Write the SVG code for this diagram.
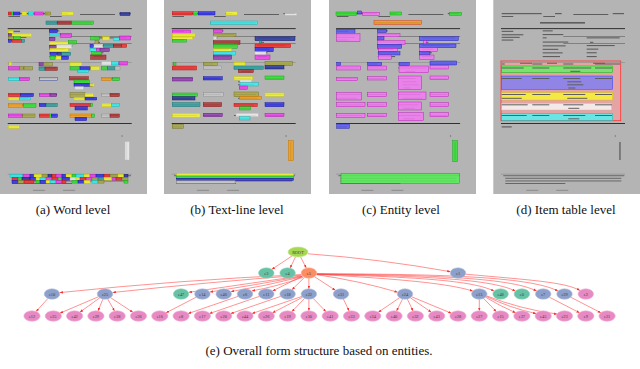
<svg xmlns="http://www.w3.org/2000/svg" width="640" height="369" viewBox="0 0 640 369">
<style>
.pg{fill:#b4b4b4}
.tx rect{fill:#5e5e5e}
.tx rect.k{fill:#222}
.tx rect.f{fill:#8a8a8a}
.bx rect{stroke-width:.45;fill-opacity:.85}
.r{fill:#f03030;stroke:#b81010}.g{fill:#33e033;stroke:#10a010}.b{fill:#3434ee;stroke:#10109a}
.y{fill:#f6f634;stroke:#c8c800}.c{fill:#34f2f2;stroke:#10b0b0}.m{fill:#f044f0;stroke:#b010b0}
.o{fill:#a8a84a;stroke:#707020}.t{fill:#32a2a2;stroke:#107070}.br{fill:#b03838;stroke:#801010}
.p{fill:#9040b0;stroke:#601080}.w{fill:#eeeeee;stroke:#bbbbbb}.db{fill:#2a3aa0;stroke:#101060}
.or{fill:#f0a020;stroke:#c07000}.gy{fill:#c8c8c8;stroke:#8a8a8a}
.cm{fill:#f27af2;stroke:#c010c0}.cb{fill:#5a5af5;stroke:#2020b0}
.cap{font-family:"Liberation Serif","Times New Roman",serif;font-size:13px;fill:#111;text-anchor:middle}
.edges path{fill:none;stroke:#ff3a3a;stroke-width:.65;stroke-opacity:.85;marker-end:url(#ah)}
.nd text{font-family:"Liberation Serif",serif;font-size:4.3px;fill:#3a3a3a;text-anchor:middle}
.lime{fill:#a6d854;stroke:#c4e88a;stroke-width:.6}
.teal{fill:#66c2a5;stroke:#93d6c0;stroke-width:.6}
.orng{fill:#fc8d62;stroke:#fdb195;stroke-width:.6}
.blue{fill:#8da0cb;stroke:#b2bfdd;stroke-width:.6}
.pink{fill:#e78ac3;stroke:#f0b0d7;stroke-width:.6}
</style>
<defs>
<marker id="ah" viewBox="0 0 10 8" refX="10" refY="4" markerWidth="3.2" markerHeight="2.6" markerUnits="userSpaceOnUse" orient="auto">
<path d="M0,0 L10,4 L0,8 z" fill="#ff2a2a"/>
</marker>
<g id="formtext" class="tx">
<rect x="8.4" y="13" width="40" height="1.2"/><rect x="61.7" y="13" width="6.7" height="1.2"/>
<rect x="80" y="14" width="35" height="1"/><rect x="119.4" y="13" width="11.3" height="1.2"/>
<rect x="8.4" y="16" width="11.6" height="1"/><rect x="50" y="16" width="11.7" height="1"/>
<rect x="46.7" y="22" width="45" height="1.6"/>
<rect class="k" x="7.7" y="28.2" width="124" height="0.9"/>
<rect x="8.4" y="30.8" width="11.6" height="1.1"/><rect x="8.4" y="34.2" width="21.6" height="1.1"/>
<rect x="8.4" y="36.8" width="18" height="1.1"/><rect x="8.4" y="39.5" width="11.6" height="1.1"/>
<rect x="49.4" y="30.3" width="10" height="1.1"/><rect x="49.4" y="34" width="20.6" height="1.1"/>
<rect x="49.4" y="37.3" width="4" height="1.1"/><rect x="49.4" y="41.5" width="25.6" height="1.1"/>
<rect x="49.4" y="45.3" width="23" height="1.1"/><rect x="49.4" y="48.8" width="15.6" height="1.1"/>
<rect x="49.4" y="52.3" width="20" height="1.1"/><rect x="49.4" y="56" width="17.3" height="1.1"/>
<rect x="70" y="36" width="61.7" height="0.6"/><rect x="70" y="43" width="61.7" height="0.6"/>
<rect x="93.4" y="37.3" width="33" height="1.1"/><rect x="96.7" y="41.8" width="3.3" height="1.1"/>
<rect x="93.4" y="45" width="28" height="1.1"/><rect x="93.4" y="48.6" width="11.6" height="1.1"/>
<rect x="93.4" y="52.2" width="10" height="1.1"/><rect x="93.4" y="56" width="10" height="1.1"/>
<rect class="f" x="7.7" y="62.3" width="124" height="0.6"/>
<rect x="8.4" y="63.5" width="3" height="1"/><rect x="39" y="63.5" width="10" height="1"/><rect x="70" y="63.5" width="10" height="1"/><rect x="101.7" y="63.5" width="25" height="1"/>
<rect x="8.4" y="67.5" width="22" height="1"/><rect x="39" y="67.5" width="17" height="1"/><rect x="70" y="67.5" width="28" height="1"/><rect x="101.7" y="67.5" width="17" height="1"/>
<rect x="77" y="70.8" width="10" height="1"/>
<rect x="8.4" y="78" width="20" height="1"/><rect x="39" y="78" width="17" height="1"/><rect x="70" y="78" width="17" height="1"/><rect x="101.7" y="78" width="17" height="1"/>
<rect x="74" y="81.3" width="14" height="1"/><rect x="74" y="84.3" width="16" height="1"/><rect x="75" y="87.5" width="7" height="1"/>
<rect x="8.4" y="94" width="24" height="1"/><rect x="39" y="94" width="18" height="1"/><rect x="70" y="94" width="22" height="1"/><rect x="101.7" y="94" width="17" height="1"/>
<rect x="8.4" y="97.8" width="20" height="1"/><rect x="74" y="97.8" width="20" height="1"/>
<rect x="8.4" y="104.3" width="26" height="1"/><rect x="39" y="104.3" width="17" height="1"/><rect x="70" y="104.3" width="20" height="1"/><rect x="101.7" y="104.3" width="17" height="1"/>
<rect x="75" y="107.8" width="11" height="1"/>
<rect x="8.4" y="115" width="25" height="1"/><rect x="39" y="115" width="17" height="1"/><rect x="70" y="115" width="22" height="1"/><rect x="101.7" y="115" width="17" height="1"/>
<rect x="75" y="118.3" width="11" height="1"/>
<rect class="k" x="7.7" y="123" width="124" height="0.9"/>
<rect x="8.4" y="126.3" width="10" height="1.2"/>
<rect x="121.5" y="135.5" width="1.2" height="1"/>
<rect x="126" y="142" width="1.3" height="18"/>
<rect class="f" x="7.7" y="173.8" width="124" height="0.6"/>
<rect x="10" y="175.3" width="121" height="0.9"/><rect x="12" y="177.8" width="116" height="0.9"/>
<rect x="12" y="180.5" width="116" height="0.9"/><rect x="12" y="183" width="60" height="0.9"/>
<rect class="f" x="33" y="189.8" width="12" height="1"/><rect class="f" x="63" y="189.8" width="12" height="1"/>
</g>
</defs>
<rect width="640" height="369" fill="#ffffff"/>

<g id="panel-a">
<rect class="pg" x="0" y="0" width="147" height="194"/>
<use href="#formtext"/>
<g class="bx">
<rect class="r" x="8.3" y="12" width="2.8" height="3"/><rect class="g" x="11.3" y="12" width="2" height="3"/><rect class="b" x="13.7" y="12" width="6.3" height="3"/>
<rect class="y" x="22" y="12" width="4.7" height="3"/><rect class="c" x="28.7" y="12" width="4.6" height="3"/><rect class="m" x="34.3" y="12" width="9" height="3"/>
<rect class="o" x="45" y="12" width="5.7" height="3"/><rect class="y" x="61.7" y="12" width="11.6" height="3"/><rect class="db" x="120" y="12.5" width="10" height="3"/>
<rect class="t" x="46" y="21" width="11" height="3.3"/><rect class="br" x="57.7" y="21" width="14" height="3.3"/><rect class="g" x="71.7" y="21" width="21.6" height="3.3"/>
<rect class="y" x="8.3" y="30.5" width="5" height="2.7"/><rect class="p" x="8.3" y="33.5" width="3.3" height="2.7"/><rect class="y" x="12" y="33.5" width="19.5" height="3"/>
<rect class="o" x="8.3" y="36.6" width="5" height="2.7"/><rect class="g" x="13.6" y="36.6" width="7" height="2.7"/>
<rect class="b" x="8.3" y="39.6" width="3" height="2.7"/><rect class="r" x="12" y="39.6" width="9.5" height="2.7"/><rect class="t" x="21.6" y="39.6" width="3" height="2.7"/>
<rect class="b" x="49.3" y="29.3" width="8" height="3.3"/><rect class="c" x="49.3" y="33.3" width="10.7" height="2.7"/><rect class="m" x="60.7" y="33.3" width="11" height="4"/>
<rect class="p" x="49.3" y="37.3" width="5.7" height="3.3"/><rect class="y" x="49.3" y="41.3" width="19" height="3"/><rect class="g" x="68.3" y="40.7" width="8.3" height="3.3"/>
<rect class="p" x="49.3" y="45.3" width="7.3" height="3"/><rect class="w" x="56.7" y="44.7" width="15" height="3.7"/><rect class="y" x="50" y="48.3" width="18.3" height="3.3"/>
<rect class="b" x="50" y="52.3" width="6.7" height="3"/><rect class="db" x="57.3" y="52.3" width="4.3" height="3"/><rect class="t" x="61.7" y="52.3" width="9" height="3"/>
<rect class="g" x="50" y="56" width="5" height="3.3"/><rect class="y" x="56" y="56" width="5.7" height="3.3"/><rect class="b" x="61.7" y="56" width="6.7" height="3.3"/>
<rect class="g" x="90.7" y="36.7" width="8.7" height="3.3"/><rect class="y" x="102.7" y="36.7" width="6.7" height="3.3"/><rect class="c" x="113.3" y="37.7" width="6" height="3"/><rect class="m" x="119.3" y="36" width="11.3" height="4"/>
<rect class="o" x="95" y="40.7" width="3.3" height="3.3"/>
<rect class="b" x="90" y="44.3" width="3.3" height="3"/><rect class="w" x="94" y="44.3" width="8.7" height="3"/><rect class="t" x="103.3" y="44.3" width="10" height="3"/><rect class="br" x="113.3" y="44.3" width="8.3" height="3"/><rect class="r" x="121.7" y="44.3" width="5" height="3"/>
<rect class="c" x="90" y="48.3" width="6.7" height="3.3"/><rect class="m" x="96.7" y="48.3" width="3.3" height="3.3"/><rect class="p" x="100" y="48.3" width="9.3" height="3.3"/>
<rect class="g" x="91.7" y="51.7" width="10" height="3.3"/><rect class="br" x="90.7" y="55" width="15.3" height="4.3"/>
<rect class="y" x="9" y="62.3" width="2.7" height="3"/><rect class="p" x="39" y="62.7" width="4.3" height="3.3"/><rect class="o" x="43.3" y="62.7" width="9.3" height="3.3"/>
<rect class="y" x="70" y="62.7" width="11.7" height="3.3"/><rect class="w" x="101.7" y="61.7" width="10" height="3.3"/><rect class="c" x="111.7" y="61.7" width="6.7" height="3.3"/><rect class="m" x="119" y="61.7" width="8.3" height="3.3"/>
<rect class="m" x="8.3" y="66.7" width="11" height="3.3"/><rect class="o" x="19.3" y="66.7" width="4" height="3.3"/><rect class="o" x="24" y="66.7" width="8.7" height="3.3"/>
<rect class="t" x="39" y="67" width="6" height="3.3"/><rect class="br" x="45" y="67" width="12.3" height="3.3"/>
<rect class="g" x="70" y="66.7" width="10" height="3.3"/><rect class="b" x="80" y="66.7" width="10.7" height="3.3"/><rect class="y" x="90.7" y="66.7" width="8.7" height="3.3"/>
<rect class="g" x="101.7" y="66.7" width="5.7" height="3.3"/><rect class="t" x="107.3" y="66.7" width="7.7" height="3.3"/><rect class="gy" x="115" y="66.7" width="5" height="3.3"/>
<rect class="c" x="77.3" y="70" width="11" height="2.7"/>
<rect class="c" x="8.3" y="77.3" width="11" height="3.3"/><rect class="m" x="19.3" y="77.3" width="10" height="3.3"/><rect class="gy" x="39.3" y="77.3" width="18" height="3.3" style="stroke:#2a3aa0"/>
<rect class="br" x="69.3" y="76.7" width="19" height="3.3"/><rect class="g" x="74" y="80" width="15.3" height="3.3"/><rect class="b" x="74" y="83.3" width="18.7" height="3"/><rect class="y" x="90" y="83.3" width="4" height="3"/>
<rect class="w" x="75" y="86.7" width="8.3" height="2.7"/><rect class="or" x="101.7" y="77.3" width="10" height="3.3"/><rect class="g" x="112.7" y="77.3" width="6.7" height="3.3"/>
<rect class="r" x="8.3" y="93.3" width="12.3" height="3.3"/><rect class="b" x="20.7" y="93.3" width="12.7" height="3.3"/><rect class="y" x="8.3" y="97.3" width="11" height="2.7"/><rect class="c" x="19.3" y="97.3" width="11.3" height="2.7"/>
<rect class="m" x="39.3" y="93.3" width="10.7" height="3.3"/><rect class="p" x="50" y="93.3" width="6.7" height="3.3"/>
<rect class="o" x="70" y="92.7" width="15" height="4.7"/><rect class="y" x="85" y="93.3" width="8.3" height="3.3"/><rect class="y" x="74" y="97.3" width="11" height="2.7"/><rect class="b" x="85" y="97.3" width="11.7" height="2.7"/>
<rect class="gy" x="101.7" y="93.3" width="8.3" height="3.3"/><rect class="br" x="110" y="93.3" width="9.3" height="3.3"/>
<rect class="or" x="8.3" y="103.3" width="14.3" height="4"/><rect class="g" x="23.3" y="103.3" width="12.7" height="4"/>
<rect class="b" x="39.3" y="103.3" width="6.7" height="3.3"/><rect class="t" x="46" y="103.3" width="11.3" height="3.3"/>
<rect class="r" x="70" y="103.3" width="20.7" height="3.3"/><rect class="g" x="90.7" y="103.3" width="2" height="3.3"/><rect class="b" x="75" y="106.7" width="12.3" height="3.3"/>
<rect class="y" x="101.7" y="103.3" width="10" height="3.3"/><rect class="c" x="111.7" y="103.3" width="7.7" height="3.3"/>
<rect class="m" x="8.3" y="114" width="14.3" height="3.3"/><rect class="o" x="22.7" y="114" width="12.3" height="3.3"/>
<rect class="r" x="39.3" y="114" width="10" height="3.3"/><rect class="g" x="49.3" y="114" width="2.3" height="3.3"/><rect class="b" x="51.7" y="114" width="5.7" height="3.3"/>
<rect class="or" x="70" y="114" width="21.7" height="3.3"/><rect class="g" x="91.7" y="114" width="2.6" height="3.3"/><rect class="b" x="75" y="117.3" width="11.7" height="3.3"/>
<rect class="gy" x="101.7" y="114" width="8.3" height="3.3"/><rect class="br" x="110" y="114" width="9.3" height="3.3"/>
<rect class="y" x="8.3" y="125.3" width="11" height="3"/>
<rect class="w" x="125" y="141.7" width="4.3" height="18.3"/>
<rect class="c" x="10" y="174.3" width="13" height="2.8"/><rect class="m" x="23" y="174.3" width="7" height="2.8"/><rect class="b" x="30" y="174.3" width="4" height="2.8"/><rect class="y" x="34" y="174.3" width="8" height="2.8"/><rect class="o" x="42" y="174.3" width="6" height="2.8"/><rect class="db" x="48" y="174.3" width="4" height="2.8"/><rect class="r" x="52" y="174.3" width="4" height="2.8"/><rect class="m" x="56" y="174.3" width="6" height="2.8"/><rect class="b" x="62" y="174.3" width="4" height="2.8"/><rect class="y" x="66" y="174.3" width="6" height="2.8"/><rect class="g" x="72" y="174.3" width="4" height="2.8"/><rect class="c" x="76" y="174.3" width="8" height="2.8"/><rect class="y" x="84" y="174.3" width="6" height="2.8"/><rect class="m" x="90" y="174.3" width="6" height="2.8"/><rect class="b" x="96" y="174.3" width="8" height="2.8"/><rect class="r" x="104" y="174.3" width="6" height="2.8"/><rect class="o" x="110" y="174.3" width="8" height="2.8"/><rect class="y" x="118" y="174.3" width="6" height="2.8"/><rect class="db" x="124" y="174.3" width="4" height="2.8"/>
<rect class="r" x="12" y="177.3" width="6" height="2.8"/><rect class="g" x="18" y="177.3" width="4" height="2.8"/><rect class="db" x="22" y="177.3" width="8" height="2.8"/><rect class="b" x="30" y="177.3" width="6" height="2.8"/><rect class="y" x="36" y="177.3" width="4" height="2.8"/><rect class="c" x="40" y="177.3" width="6" height="2.8"/><rect class="m" x="46" y="177.3" width="6" height="2.8"/><rect class="r" x="52" y="177.3" width="6" height="2.8"/><rect class="g" x="58" y="177.3" width="4" height="2.8"/><rect class="b" x="62" y="177.3" width="8" height="2.8"/><rect class="w" x="70" y="177.3" width="6" height="2.8"/><rect class="y" x="76" y="177.3" width="4" height="2.8"/><rect class="r" x="80" y="177.3" width="6" height="2.8"/><rect class="m" x="86" y="177.3" width="6" height="2.8"/><rect class="o" x="92" y="177.3" width="6" height="2.8"/><rect class="t" x="98" y="177.3" width="6" height="2.8"/><rect class="y" x="104" y="177.3" width="8" height="2.8"/><rect class="m" x="112" y="177.3" width="4" height="2.8"/><rect class="r" x="116" y="177.3" width="6" height="2.8"/><rect class="o" x="122" y="177.3" width="6" height="2.8"/>
<rect class="b" x="12" y="180.3" width="6" height="2.8"/><rect class="o" x="18" y="180.3" width="6" height="2.8"/><rect class="r" x="24" y="180.3" width="10" height="2.8"/><rect class="g" x="36" y="180.3" width="4" height="2.8"/><rect class="b" x="40" y="180.3" width="6" height="2.8"/><rect class="y" x="46" y="180.3" width="4" height="2.8"/><rect class="c" x="50" y="180.3" width="6" height="2.8"/><rect class="m" x="56" y="180.3" width="6" height="2.8"/><rect class="r" x="62" y="180.3" width="4" height="2.8"/><rect class="g" x="72" y="180.3" width="6" height="2.8"/><rect class="b" x="78" y="180.3" width="6" height="2.8"/><rect class="y" x="84" y="180.3" width="6" height="2.8"/><rect class="c" x="92" y="180.3" width="6" height="2.8"/><rect class="o" x="98" y="180.3" width="6" height="2.8"/><rect class="g" x="124" y="180.3" width="4" height="2.8"/>
</g>
</g>

<g id="panel-b">
<rect class="pg" x="164" y="0" width="147" height="194"/>
<use href="#formtext" x="164"/>
<g class="bx">
<rect class="r" x="172.3" y="11.7" width="20.4" height="3.3"/><rect class="g" x="193.3" y="11.7" width="4" height="3.3"/><rect class="b" x="198.3" y="11.7" width="16.7" height="3.3"/>
<rect class="y" x="226" y="11.7" width="11.3" height="3.3"/><rect class="w" x="285" y="13.3" width="11.7" height="2"/>
<rect class="c" x="210.7" y="21" width="46.6" height="3.3"/>
<rect class="m" x="172.3" y="30" width="18.3" height="3.3"/><rect class="y" x="172.3" y="33.3" width="22.7" height="3.3"/><rect class="y" x="172.3" y="36.7" width="20.3" height="2.7"/><rect class="g" x="172.3" y="39.4" width="14.3" height="2.7"/>
<rect class="m" x="213.3" y="29.3" width="9" height="3.3"/><rect class="o" x="213.3" y="33.3" width="22.7" height="3.3"/><rect class="w" x="213.3" y="36.7" width="3.3" height="2.7"/>
<rect class="br" x="213.3" y="40.7" width="26.7" height="3.6"/><rect class="g" x="213.3" y="44.3" width="24" height="4"/><rect class="y" x="213.3" y="48.7" width="18.3" height="3"/>
<rect class="c" x="213.3" y="51.7" width="22" height="3.3"/><rect class="p" x="213.3" y="55" width="18.3" height="4.3"/>
<rect class="db" x="255" y="36.7" width="40" height="4"/><rect class="t" x="259.3" y="40.7" width="2.3" height="2.7"/><rect class="r" x="255" y="44" width="35.7" height="3.7"/>
<rect class="b" x="255" y="47.7" width="18.3" height="4"/><rect class="w" x="255" y="51.7" width="11" height="3.3"/><rect class="m" x="255" y="55" width="15" height="4.3"/>
<rect class="g" x="173.3" y="62.7" width="2.7" height="2.7"/><rect class="r" x="172.3" y="66" width="24.3" height="4"/>
<rect class="o" x="203.3" y="62.3" width="14" height="3.3"/><rect class="gy" x="203.3" y="66" width="18.3" height="3.3"/>
<rect class="y" x="234" y="62.3" width="11" height="3.3"/><rect class="t" x="234" y="66" width="29.3" height="3.3"/><rect class="br" x="238.3" y="69.3" width="15" height="3.3"/>
<rect class="o" x="265" y="61.3" width="27.7" height="4.3"/><rect class="db" x="265" y="65.7" width="19" height="3.3"/>
<rect class="p" x="172.3" y="77.3" width="20.3" height="3.7"/><rect class="b" x="203.3" y="76.7" width="19" height="3.3"/>
<rect class="y" x="234" y="76.7" width="18.7" height="3.3"/><rect class="w" x="240" y="80" width="11.7" height="2.7"/><rect class="c" x="240" y="82.7" width="18.3" height="3.3"/><rect class="m" x="239.3" y="86" width="8" height="3.3"/>
<rect class="g" x="265" y="76" width="19" height="3.3"/>
<rect class="g" x="172.3" y="93" width="25" height="3.3"/><rect class="db" x="172.3" y="96.7" width="22.7" height="3.3"/><rect class="gy" x="203.3" y="92.7" width="20" height="4"/>
<rect class="o" x="234" y="92" width="24.3" height="4.7"/><rect class="or" x="239.3" y="96.3" width="22.3" height="3"/><rect class="y" x="265" y="93" width="19" height="3.3"/>
<rect class="t" x="172.3" y="102.7" width="27.7" height="4"/><rect class="br" x="203.3" y="102.7" width="18.3" height="4"/>
<rect class="r" x="234" y="103.3" width="23.3" height="3.3"/><rect class="g" x="239.3" y="106.7" width="11.3" height="3.3"/><rect class="b" x="265" y="102.7" width="19" height="4"/>
<rect class="y" x="172.3" y="113.3" width="27.7" height="4"/><rect class="p" x="203.3" y="113.3" width="19" height="3.3"/>
<rect class="w" x="236" y="113.3" width="22.3" height="3.3"/><rect class="c" x="239.3" y="116.7" width="10.7" height="3.3"/><rect class="m" x="265" y="113.3" width="19" height="3.3"/>
<rect class="o" x="172.3" y="124.3" width="11" height="4"/>
<rect class="or" x="288.3" y="140.7" width="5" height="20"/>
<rect class="y" x="176.7" y="173.3" width="116.7" height="2.7"/><rect class="g" x="176.7" y="176" width="116.7" height="2.3"/>
<rect class="b" x="176.7" y="178.3" width="116.7" height="2.3"/><rect class="gy" x="176.7" y="180.7" width="58.3" height="2.7"/>
</g>
</g>

<g id="panel-c">
<rect class="pg" x="329" y="0" width="147" height="194"/>
<use href="#formtext" x="328.4"/>
<g class="bx">
<rect class="g" x="336" y="12" width="20.7" height="3.3"/><rect class="cb" x="357.3" y="11" width="4.3" height="3"/><rect class="cm" x="362.7" y="12.3" width="16.7" height="3"/>
<rect class="g" x="390" y="12" width="11.7" height="3"/><rect class="g" x="449.3" y="12.3" width="12.3" height="3"/>
<rect class="or" x="374" y="20.7" width="47.7" height="3.7" style="stroke:#e03010"/>
<rect class="cb" x="336.7" y="29.3" width="18.3" height="4"/><rect class="cm" x="336.7" y="33.3" width="23.3" height="8.3"/>
<rect class="cb" x="377.3" y="29.3" width="9.3" height="3.3"/><rect class="cm" x="377.3" y="33.3" width="22.7" height="3.3"/><rect class="cb" x="377.3" y="36.7" width="6.7" height="3.3"/>
<rect class="cm" x="377.3" y="40.7" width="27.7" height="3.6"/><rect class="cb" x="377.3" y="44.3" width="24.3" height="4"/><rect class="cm" x="378.3" y="48.3" width="19" height="3.3"/>
<rect class="cb" x="378.3" y="51.7" width="21.7" height="3.3"/><rect class="cm" x="378.3" y="55" width="13.3" height="4.3"/>
<rect class="cb" x="419.3" y="36.7" width="39" height="4"/><rect class="cm" x="423.3" y="40.7" width="3.3" height="3.3"/><rect class="cb" x="419.3" y="44" width="36.7" height="3.7"/>
<rect class="cm" x="419.3" y="47.7" width="18" height="4"/><rect class="cb" x="419.3" y="51.7" width="10.7" height="3.3"/><rect class="cm" x="419.3" y="55" width="14.7" height="4.3"/>
<rect class="cb" x="336.7" y="62.3" width="4" height="3.3"/><rect class="cm" x="336.7" y="66" width="24" height="4"/>
<rect class="cb" x="367.7" y="62.3" width="14" height="3.3"/><rect class="cm" x="367.7" y="66" width="19" height="4"/>
<rect class="cb" x="399" y="62.3" width="10.3" height="3.3"/><rect class="cm" x="399" y="66" width="29.3" height="6.7"/>
<rect class="cb" x="430" y="61" width="26.7" height="4"/><rect class="cm" x="430" y="65.7" width="18.3" height="3.3"/>
<rect class="cm" x="336.7" y="77.3" width="20.7" height="3.3"/><rect class="cm" x="367.7" y="76.7" width="19" height="3.3"/>
<rect class="cm" x="398.3" y="76" width="23.3" height="13.3"/><rect class="cm" x="430" y="76" width="18.3" height="3.3"/>
<rect class="cm" x="336.7" y="92.7" width="25" height="7.3"/><rect class="cm" x="367.7" y="92.7" width="19" height="4"/>
<rect class="cm" x="398.3" y="92" width="27.7" height="7.3"/><rect class="cm" x="430" y="92.7" width="18.3" height="4"/>
<rect class="cm" x="336.7" y="102.7" width="28.3" height="4"/><rect class="cm" x="367.7" y="102.7" width="19" height="4"/>
<rect class="cm" x="398.3" y="102" width="23.3" height="8"/><rect class="cm" x="430" y="102.7" width="18.3" height="4"/>
<rect class="cm" x="336.7" y="113.3" width="28.3" height="4"/><rect class="cm" x="367.7" y="113.3" width="19" height="3.3"/>
<rect class="cm" x="398.3" y="112.7" width="25" height="8"/><rect class="cm" x="430" y="112.7" width="18.3" height="4"/>
<rect class="cb" x="336.7" y="124" width="12.7" height="4.3"/>
<rect class="g" x="452.7" y="140.7" width="4.7" height="21"/>
<rect class="g" x="341" y="173.3" width="118.3" height="10" style="fill:#55ee55"/>
</g>
</g>

<g id="panel-d">
<rect class="pg" x="493.3" y="0" width="146.7" height="194"/>
<rect x="501" y="61" width="119.7" height="59.7" fill="#e6a3a3" stroke="#ff3030" stroke-width=".8"/>
<g class="bx">
<rect class="g" x="501.7" y="66" width="111" height="6.7" style="fill:#66ee66"/>
<rect class="cb" x="501.7" y="76" width="111" height="13.3" style="fill:#8080f0;stroke:#3030ff"/>
<rect class="y" x="501.7" y="92.7" width="111" height="7.3"/>
<rect class="w" x="501.7" y="103.3" width="110" height="6.7" style="fill:#f6f6f6"/>
<rect class="c" x="501.7" y="113.3" width="111" height="7.3" style="fill:#55f0f0"/>
</g>
<use href="#formtext" x="493.3"/>
<g fill="#e02020">
<rect x="520" y="62.8" width="12" height="0.9"/><rect x="547" y="62.8" width="10" height="0.9"/><rect x="593" y="62.8" width="12" height="0.9"/>
</g>
</g>

<g id="captions">
<text class="cap" x="73" y="213.5">(a) Word level</text>
<text class="cap" x="237" y="213.5">(b) Text-line level</text>
<text class="cap" x="401" y="213.5">(c) Entity level</text>
<text class="cap" x="566" y="213.5">(d) Item table level</text>
<text class="cap" x="319" y="355">(e) Overall form structure based on entities.</text>
</g>

<g id="connectors" class="edges">
<path d="M291.98,255.99 L271.83,269.34"/>
<path d="M295.53,256.85 L290.11,268.08"/>
<path d="M300.51,256.84 L306.35,268.09"/>
<path d="M308,253.8 Q380,259 450.4,271.7"/>
<path d="M465.6,274.2 C530,280 565,282 580,290.5"/>
<path d="M301.2,274.6 Q180,280 59.7,292.6"/>
<path d="M301.3,275.2 Q210,282 112.7,292.5"/>
<path d="M301.6,275.9 Q245,284 188.7,292.3"/>
<path d="M302,276.3 Q255,285 209.9,292"/>
<path d="M302.3,276.7 Q265,286 230.9,291.6"/>
<path d="M303,277.3 Q275,287 251.8,290.9"/>
<path d="M302.63,276.09 L272.57,290.91"/>
<path d="M304.53,277.31 L291.97,289.69"/>
<path d="M308.9,278.2 L308.9,288.8"/>
<path d="M314.47,276.64 L335.43,290.36"/>
<path d="M316.3,274.6 Q360,281 397.6,292.2"/>
<path d="M316.6,274.3 C380,278 445,282 472.8,291.1"/>
<path d="M316.6,274.1 C400,277 470,279 494.1,291.1"/>
<path d="M316.6,274 C410,276 490,278 515.4,291.1"/>
<path d="M316.6,273.9 C420,275 510,277 536.7,291.1"/>
<path d="M316.6,273.8 C430,274 530,276 558,291.1"/>
<path d="M47.96,298.45 L36.04,311.55"/>
<path d="M98.42,296.8 L59.88,313.2"/>
<path d="M99.72,297.82 L79.88,312.18"/>
<path d="M102.93,299.01 L97.97,310.99"/>
<path d="M107.7,298.88 L114.5,311.12"/>
<path d="M110.56,297.65 L132.94,312.35"/>
<path d="M196.23,297.18 L165.97,312.82"/>
<path d="M238.07,296.39 L188.03,313.61"/>
<path d="M259.37,296.39 L209.33,313.61"/>
<path d="M280.67,296.39 L230.63,313.61"/>
<path d="M301.97,296.39 L251.93,313.61"/>
<path d="M302.73,297.18 L272.47,312.82"/>
<path d="M304.67,298.37 L291.83,311.63"/>
<path d="M308.9,299.2 L308.9,310.8"/>
<path d="M313.13,298.37 L325.97,311.63"/>
<path d="M343.36,298.95 L349.14,311.05"/>
<path d="M399.55,297.72 L378.25,312.28"/>
<path d="M402.55,298.94 L396.55,311.06"/>
<path d="M407.34,298.95 L413.06,311.05"/>
<path d="M410.4,297.75 L431.3,312.25"/>
<path d="M411.62,296.75 L451.38,313.25"/>
<path d="M479.3,299.2 L479.3,310.8"/>
<path d="M483.53,298.37 L496.37,311.63"/>
<path d="M485.47,297.18 Q500,306 515.73,312.82"/>
<path d="M486.23,296.39 Q510,308 536.27,313.61"/>
<path d="M486.58,295.88 Q520,309 557.22,314.12"/>
<path d="M549.37,297.18 L579.63,312.82"/>
<path d="M570.67,297.18 L600.93,312.82"/>
</g>

<g id="nodes" class="nd">
<g id="n-root"><ellipse class="lime" cx="298" cy="252" rx="10" ry="5"/><text x="298" y="253.5">ROOT</text></g>
<g id="n-e3"><ellipse class="teal" cx="266.3" cy="273" rx="7.8" ry="5.2"/><text x="266.3" y="274.5">e3</text></g>
<g id="n-e4"><ellipse class="teal" cx="287.6" cy="273" rx="7.8" ry="5.2"/><text x="287.6" y="274.5">e4</text></g>
<g id="n-e5"><ellipse class="orng" cx="308.9" cy="273" rx="7.8" ry="5.2"/><text x="308.9" y="274.5">e5</text></g>
<g id="n-e1"><ellipse class="blue" cx="458" cy="273" rx="7.8" ry="5.2"/><text x="458" y="274.5">e1</text></g>
<g id="n-e10"><ellipse class="blue" cx="52" cy="294" rx="7.8" ry="5.2"/><text x="52" y="295.5">e10</text></g>
<g id="n-e25"><ellipse class="blue" cx="105" cy="294" rx="7.8" ry="5.2"/><text x="105" y="295.5">e25</text></g>
<g id="n-e47"><ellipse class="teal" cx="181.1" cy="294" rx="7.8" ry="5.2"/><text x="181.1" y="295.5">e47</text></g>
<g id="n-e14"><ellipse class="blue" cx="202.4" cy="294" rx="7.8" ry="5.2"/><text x="202.4" y="295.5">e14</text></g>
<g id="n-e46"><ellipse class="blue" cx="223.7" cy="294" rx="7.8" ry="5.2"/><text x="223.7" y="295.5">e46</text></g>
<g id="n-e6"><ellipse class="blue" cx="245" cy="294" rx="7.8" ry="5.2"/><text x="245" y="295.5">e6</text></g>
<g id="n-e11"><ellipse class="blue" cx="266.3" cy="294" rx="7.8" ry="5.2"/><text x="266.3" y="295.5">e11</text></g>
<g id="n-e18"><ellipse class="blue" cx="287.6" cy="294" rx="7.8" ry="5.2"/><text x="287.6" y="295.5">e18</text></g>
<g id="n-e22"><ellipse class="blue" cx="308.9" cy="294" rx="7.8" ry="5.2"/><text x="308.9" y="295.5">e22</text></g>
<g id="n-e31"><ellipse class="blue" cx="341" cy="294" rx="7.8" ry="5.2"/><text x="341" y="295.5">e31</text></g>
<g id="n-e24"><ellipse class="blue" cx="405" cy="294" rx="7.8" ry="5.2"/><text x="405" y="295.5">e24</text></g>
<g id="n-e13"><ellipse class="blue" cx="479.3" cy="294" rx="7.8" ry="5.2"/><text x="479.3" y="295.5">e13</text></g>
<g id="n-e48"><ellipse class="teal" cx="500.6" cy="294" rx="7.8" ry="5.2"/><text x="500.6" y="295.5">e48</text></g>
<g id="n-e0"><ellipse class="teal" cx="521.9" cy="294" rx="7.8" ry="5.2"/><text x="521.9" y="295.5">e0</text></g>
<g id="n-e7"><ellipse class="blue" cx="543.2" cy="294" rx="7.8" ry="5.2"/><text x="543.2" y="295.5">e7</text></g>
<g id="n-e39"><ellipse class="blue" cx="564.5" cy="294" rx="7.8" ry="5.2"/><text x="564.5" y="295.5">e39</text></g>
<g id="n-e2"><ellipse class="pink" cx="585.8" cy="294" rx="7.8" ry="5.2"/><text x="585.8" y="295.5">e2</text></g>
<g id="n-e12"><ellipse class="pink" cx="32" cy="316" rx="8.2" ry="5.2"/><text x="32" y="317.5">e12</text></g>
<g id="n-e35"><ellipse class="pink" cx="53.3" cy="316" rx="8.2" ry="5.2"/><text x="53.3" y="317.5">e35</text></g>
<g id="n-e42"><ellipse class="pink" cx="74.6" cy="316" rx="8.2" ry="5.2"/><text x="74.6" y="317.5">e42</text></g>
<g id="n-e29"><ellipse class="pink" cx="95.9" cy="316" rx="8.2" ry="5.2"/><text x="95.9" y="317.5">e29</text></g>
<g id="n-e38"><ellipse class="pink" cx="117.2" cy="316" rx="8.2" ry="5.2"/><text x="117.2" y="317.5">e38</text></g>
<g id="n-e36"><ellipse class="pink" cx="138.5" cy="316" rx="8.2" ry="5.2"/><text x="138.5" y="317.5">e36</text></g>
<g id="n-e16"><ellipse class="pink" cx="159.8" cy="316" rx="8.2" ry="5.2"/><text x="159.8" y="317.5">e16</text></g>
<g id="n-e8"><ellipse class="pink" cx="181.1" cy="316" rx="8.2" ry="5.2"/><text x="181.1" y="317.5">e8</text></g>
<g id="n-e17"><ellipse class="pink" cx="202.4" cy="316" rx="8.2" ry="5.2"/><text x="202.4" y="317.5">e17</text></g>
<g id="n-e20"><ellipse class="pink" cx="223.7" cy="316" rx="8.2" ry="5.2"/><text x="223.7" y="317.5">e20</text></g>
<g id="n-e44"><ellipse class="pink" cx="245" cy="316" rx="8.2" ry="5.2"/><text x="245" y="317.5">e44</text></g>
<g id="n-e26"><ellipse class="pink" cx="266.3" cy="316" rx="8.2" ry="5.2"/><text x="266.3" y="317.5">e26</text></g>
<g id="n-e19"><ellipse class="pink" cx="287.6" cy="316" rx="8.2" ry="5.2"/><text x="287.6" y="317.5">e19</text></g>
<g id="n-e30"><ellipse class="pink" cx="308.9" cy="316" rx="8.2" ry="5.2"/><text x="308.9" y="317.5">e30</text></g>
<g id="n-e41"><ellipse class="pink" cx="330.2" cy="316" rx="8.2" ry="5.2"/><text x="330.2" y="317.5">e41</text></g>
<g id="n-e33"><ellipse class="pink" cx="351.5" cy="316" rx="8.2" ry="5.2"/><text x="351.5" y="317.5">e33</text></g>
<g id="n-e34"><ellipse class="pink" cx="372.8" cy="316" rx="8.2" ry="5.2"/><text x="372.8" y="317.5">e34</text></g>
<g id="n-e40"><ellipse class="pink" cx="394.1" cy="316" rx="8.2" ry="5.2"/><text x="394.1" y="317.5">e40</text></g>
<g id="n-e32"><ellipse class="pink" cx="415.4" cy="316" rx="8.2" ry="5.2"/><text x="415.4" y="317.5">e32</text></g>
<g id="n-e43"><ellipse class="pink" cx="436.7" cy="316" rx="8.2" ry="5.2"/><text x="436.7" y="317.5">e43</text></g>
<g id="n-e28"><ellipse class="pink" cx="458" cy="316" rx="8.2" ry="5.2"/><text x="458" y="317.5">e28</text></g>
<g id="n-e27"><ellipse class="pink" cx="479.3" cy="316" rx="8.2" ry="5.2"/><text x="479.3" y="317.5">e27</text></g>
<g id="n-e15"><ellipse class="pink" cx="500.6" cy="316" rx="8.2" ry="5.2"/><text x="500.6" y="317.5">e15</text></g>
<g id="n-e37"><ellipse class="pink" cx="521.9" cy="316" rx="8.2" ry="5.2"/><text x="521.9" y="317.5">e37</text></g>
<g id="n-e45"><ellipse class="pink" cx="543.2" cy="316" rx="8.2" ry="5.2"/><text x="543.2" y="317.5">e45</text></g>
<g id="n-e23"><ellipse class="pink" cx="564.5" cy="316" rx="8.2" ry="5.2"/><text x="564.5" y="317.5">e23</text></g>
<g id="n-e9"><ellipse class="pink" cx="585.8" cy="316" rx="8.2" ry="5.2"/><text x="585.8" y="317.5">e9</text></g>
<g id="n-e21"><ellipse class="pink" cx="607.1" cy="316" rx="8.2" ry="5.2"/><text x="607.1" y="317.5">e21</text></g>
</g>
</svg>
